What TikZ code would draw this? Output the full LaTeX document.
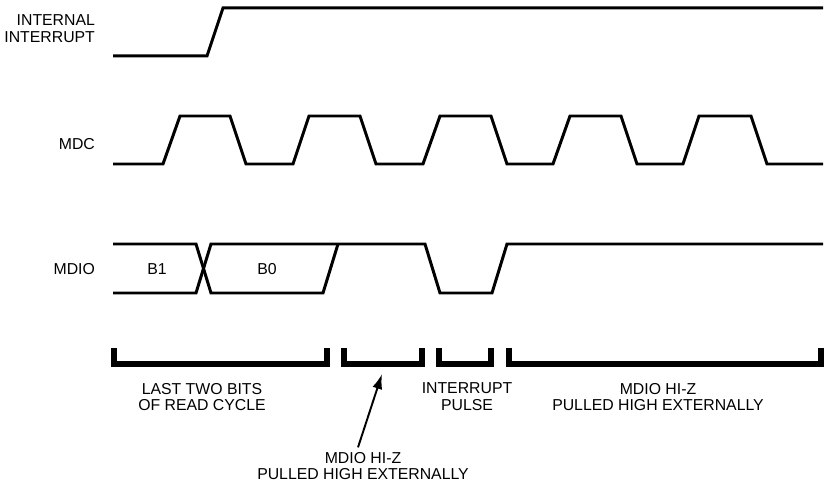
\documentclass[tikz,border=0pt]{standalone}
\usepackage{fontspec}
\setmainfont{Liberation Sans}
\usetikzlibrary{arrows.meta}

\begin{document}
\begin{tikzpicture}[x=0.02cm,y=-0.02cm,
  sig/.style={line width=1.7pt},
  brk/.style={line width=2.9pt},
  lbl/.style={font=\fontsize{9}{9.6}\selectfont, inner sep=1pt},
  note/.style={lbl, align=center}]
\useasboundingbox (0,0) rectangle (829,482);

% signal names
\node[lbl, anchor=east, align=right] (intname) at (97,29) {INTERNAL\\INTERRUPT};
\node[lbl, anchor=east] (mdcname) at (97,144) {MDC};
\node[lbl, anchor=east] (mdioname) at (97,269) {MDIO};

% internal interrupt
\draw[sig] (113,56) -- (207,56) -- (223,8) -- (823,8);

% MDC clock
\draw[sig] (113,164) -- (163,164) -- (180,116) -- (230,116) -- (246,164)
  -- (293,164) -- (309,116) -- (360,116) -- (376,164)
  -- (423,164) -- (440,116) -- (491,116) -- (507,164)
  -- (553,164) -- (570,116) -- (621,116) -- (637,164)
  -- (683,164) -- (699,116) -- (751,116) -- (767,164) -- (823,164);

% MDIO data
\draw[sig] (113,244) -- (196,244) -- (211,293) -- (323,293) -- (338,244);
\draw[sig] (113,293) -- (196,293) -- (211,244) -- (425,244) -- (440,293)
  -- (492,293) -- (507,244) -- (823,244);
\node[lbl] (bitone) at (157,269) {B1};
\node[lbl] (bitzero) at (267,269) {B0};

% brackets
\draw[brk] (114,348) -- (114,364) -- (327,364) -- (327,348);
\draw[brk] (344,348) -- (344,364) -- (422,364) -- (422,348);
\draw[brk] (439,348) -- (439,364) -- (491,364) -- (491,348);
\draw[brk] (509,348) -- (509,364) -- (821,364) -- (821,348);

\node[note] (lastbits) at (202,397) {LAST TWO BITS\\OF READ CYCLE};
\node[note] (intpulse) at (467,397) {INTERRUPT\\PULSE};
\node[note] (hizright) at (658,397) {MDIO HI-Z\\PULLED HIGH EXTERNALLY};
\node[note] (hizleft) at (363,466) {MDIO HI-Z\\PULLED HIGH EXTERNALLY};

\coordinate (hiztip) at (382,374);
\draw[line width=1.1pt, -{Latex[length=0.3cm,width=0.2cm]}] ([xshift=-0.1cm,yshift=0.05cm]hizleft.north) -- (hiztip);

\end{tikzpicture}
\end{document}
